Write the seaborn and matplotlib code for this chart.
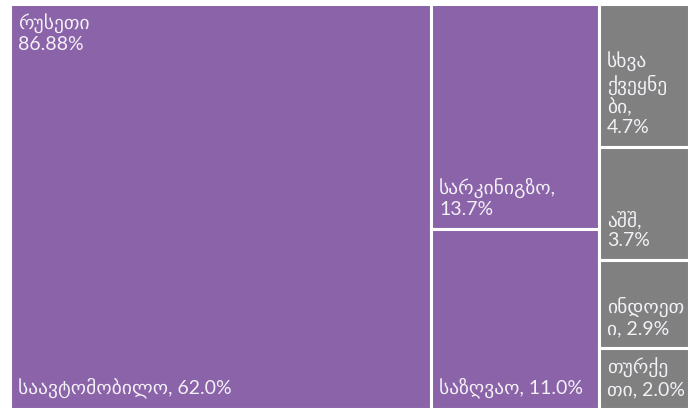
import matplotlib
matplotlib.use("Agg")
import matplotlib.pyplot as plt
import seaborn as sns

# Freight shares by transport mode (Russia) and by other partner countries
group_label = "რუსეთი"
group_total = 86.88

names = ["საავტომობილო", "სარკინიგზო", "საზღვაო",
         "სხვა\nქვეყნე\nბი", "აშშ", "ინდოეთ\nი", "თურქე\nთი"]
separators = [", ", ",\n", ", ", ",\n", ",\n", ", ", ", "]
values = [62.0, 13.7, 11.0, 4.7, 3.7, 2.9, 2.0]
columns = [0, 1, 1, 2, 2, 2, 2]
colors = ["#8A63A8", "#8A63A8", "#8A63A8",
          "#808080", "#808080", "#808080", "#808080"]

sns.set_theme(style="white")
plt.rcParams["font.family"] = ["Lato", "DejaVu Sans"]

fig = plt.figure(figsize=(6.93, 4.09), dpi=100)
ax = fig.add_axes([10 / 693, 0, 679 / 693, 405 / 409])

total = sum(values)
ncol = max(columns) + 1
col_sums = [sum(v for v, c in zip(values, columns) if c == k) for k in range(ncol)]

# slice-and-dice layout: columns sized by their sums, cells stacked within
x0 = 0.0
col_x = []
for s in col_sums:
    col_x.append(x0)
    x0 += s / total * 100
col_y = [0.0] * ncol

rects = []
for v, c, col in zip(values, columns, colors):
    w = col_sums[c] / total * 100
    h = v / col_sums[c] * 100
    x, y = col_x[c], col_y[c]
    col_y[c] += h
    ax.bar(x, h, width=w, bottom=y, align="edge", color=col,
           edgecolor="white", linewidth=2.2)
    rects.append((x, y, w, h))

ax.set_xlim(0, 100)
ax.set_ylim(100, 0)
ax.set_axis_off()

txt_color = "#F3F0F6"
fs = 14
px_x = 100 / 679
px_y = 100 / 405

# group header in the top-left corner
ax.text(rects[0][0] + 8 * px_x, 9 * px_y, f"{group_label}\n{group_total:.2f}%",
        ha="left", va="top", color=txt_color, fontsize=fs, linespacing=1.2)

for (x, y, w, h), n, sep, v in zip(rects, names, separators, values):
    ax.text(x + 8 * px_x, y + h - 11 * px_y, f"{n}{sep}{v:.1f}%",
            ha="left", va="bottom", color=txt_color, fontsize=fs,
            linespacing=1.2)

fig.savefig("out.png", dpi=100, facecolor="white")
